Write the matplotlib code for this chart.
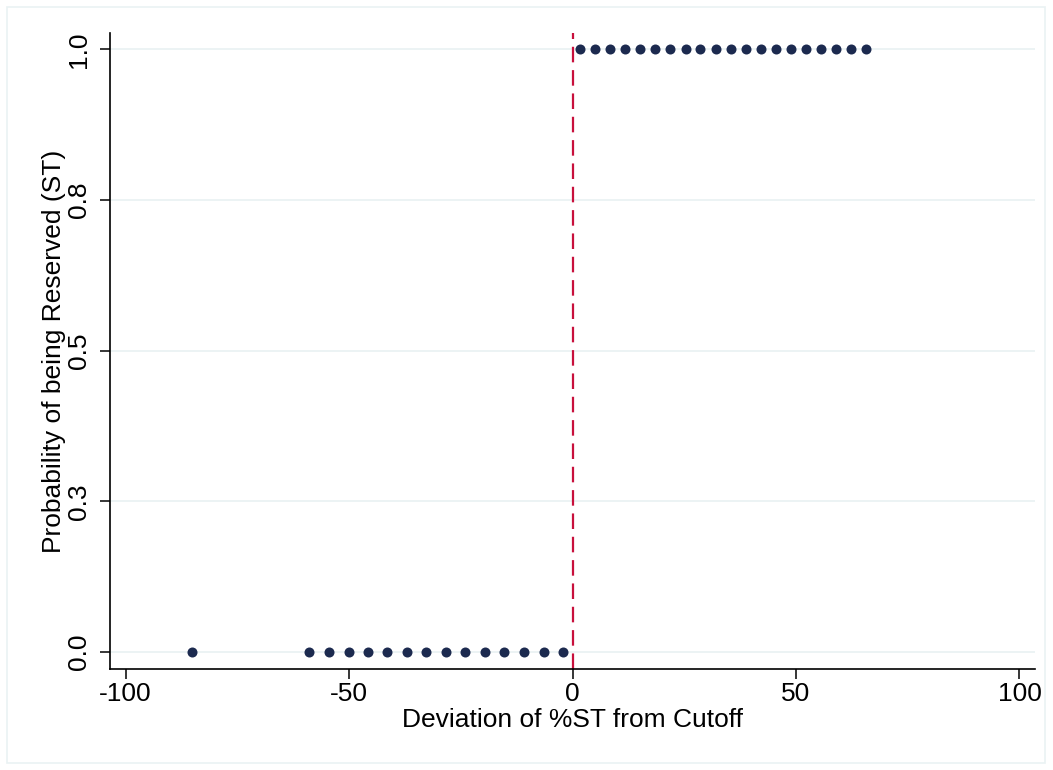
import matplotlib
matplotlib.use("Agg")
import matplotlib.pyplot as plt
from matplotlib.patches import Rectangle

# binned deviation of %ST from cutoff and the share reserved in each bin
dev_below = [-85.2, -59.0, -54.5, -50.1, -45.8, -41.5, -37.1, -32.8,
             -28.4, -24.0, -19.6, -15.3, -10.9, -6.5, -2.2]
prob_below = [0.0] * len(dev_below)

dev_above = [1.6, 5.0, 8.4, 11.7, 15.1, 18.5, 21.9, 25.3, 28.6, 32.0,
             35.4, 38.7, 42.1, 45.5, 48.8, 52.2, 55.5, 58.9, 62.3, 65.6]
prob_above = [1.0] * len(dev_above)

xticks = [-100, -50, 0, 50, 100]
yticks = [0.0, 0.25, 0.5, 0.75, 1.0]
ytick_labels = ["0.0", "0.3", "0.5", "0.8", "1.0"]

plt.rcParams["font.family"] = ["Liberation Sans", "DejaVu Sans"]

fig = plt.figure(figsize=(10.53, 7.7), dpi=100)
# light outer frame like the stata graph region
fig.patches.append(Rectangle((0.007, 0.009), 0.985, 0.982, transform=fig.transFigure,
                             fill=False, edgecolor="#eaf2f3", linewidth=1.2))

ax = fig.add_axes([0.1045, 0.1312, 0.8785, 0.8259])

navy = "#1c2a4f"
ax.scatter(dev_below, prob_below, s=52, color=navy, zorder=3, linewidths=0)
ax.scatter(dev_above, prob_above, s=52, color=navy, zorder=3, linewidths=0)
ax.axvline(0, color="#c8103c", linewidth=1.6, linestyle=(0, (7, 3.5)), zorder=2)

ax.set_xlim(-103.5, 103.5)
ax.set_ylim(-0.028, 1.027)
ax.set_xticks(xticks)
ax.set_xticklabels([str(t) for t in xticks])
ax.set_yticks(yticks)
ax.set_yticklabels(ytick_labels, rotation=90, va="center")

ax.grid(axis="y", color="#eaf2f3", linewidth=1.3, zorder=0)
ax.set_axisbelow(True)

for side in ["top", "right"]:
    ax.spines[side].set_visible(False)
for side in ["left", "bottom"]:
    ax.spines[side].set_linewidth(1.2)

ax.tick_params(axis="both", length=7.5, width=1.1, labelsize=19)
ax.tick_params(axis="x", pad=2)
ax.tick_params(axis="y", pad=6)

ax.set_xlabel("Deviation of %ST from Cutoff", fontsize=19, labelpad=1)
ax.set_ylabel("Probability of being Reserved (ST)", fontsize=19, labelpad=1)

fig.savefig("out.png", dpi=100)
